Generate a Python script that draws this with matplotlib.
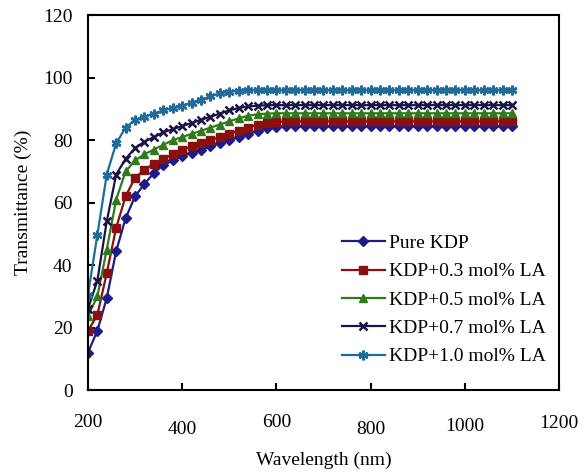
import matplotlib
matplotlib.use('Agg')
import matplotlib.pyplot as plt
import matplotlib.transforms as mtrans
import numpy as np

plt.rcParams['font.family'] = ['Liberation Serif', 'DejaVu Serif']

# wavelength 200..1100 nm, 20 nm step
wavelength = list(range(200, 1101, 20))

pure_kdp = [12, 19, 29.5, 44.5, 55, 62, 66, 69.5, 72, 73.5, 75, 76, 77, 78, 79, 80,
            81, 82, 83, 84, 84.3] + [84.5] * 25
la_03 = [19, 24, 37.5, 52, 62, 68, 70.5, 72.5, 74, 75.5, 77, 78, 79, 80, 81, 82,
         83, 84, 85, 85.5, 85.8] + [86] * 25
la_05 = [23.7, 30, 45, 61, 70, 73.5, 75.5, 77, 78.5, 80, 81, 82, 83, 84, 85, 86,
         87, 87.8, 88.3, 88.5, 88.6] + [88.6] * 25
la_07 = [26, 35, 54, 69, 74, 77.5, 79.5, 81, 82.5, 83.5, 84.5, 85.5, 86.5, 87.5, 88.5, 89.5,
         90.3, 90.8, 91, 91.2, 91.2] + [91.2] * 25
la_10 = [30.4, 49.6, 69, 79, 84, 86.5, 87.5, 88.5, 89.5, 90.3, 91, 92, 93, 94, 95, 95.5,
         95.8, 96, 96, 96, 96] + [96] * 25

labels = ['Pure KDP', 'KDP+0.3 mol% LA', 'KDP+0.5 mol% LA',
          'KDP+0.7 mol% LA', 'KDP+1.0 mol% LA']
colors = ['#1c1c8a', '#8a0f0f', '#2f7a1a', '#1a1446', '#1f6c9c']
markers = ['D', 's', '^', 'x', (6, 2, 0)]
sizes = [5, 6, 6, 6, 7]

fig = plt.figure(figsize=(5.86, 4.73), dpi=100)
ax = fig.add_axes([0.150, 0.175, 0.804, 0.793])

for y, lab, c, m, s in zip([pure_kdp, la_03, la_05, la_07, la_10], labels, colors, markers, sizes):
    ax.plot(wavelength, y, color=c, marker=m, markersize=s, linewidth=1.6,
            markeredgewidth=1.8 if m in ('x', (6, 2, 0)) else 1, label=lab)

ax.set_xlim(200, 1200)
ax.set_ylim(0, 120)
ax.set_xticks(range(200, 1201, 200))
ax.set_yticks(range(0, 121, 20))
ax.tick_params(direction='in', length=5, width=1.5, labelsize=14)
ax.tick_params(axis='x', pad=19)
ax.tick_params(axis='y', pad=11)
for sp in ax.spines.values():
    sp.set_linewidth(1.5)

# slight staggering of the x tick labels as in the original figure
offsets = [2, -3, 2, -3, -1, 1]
for lbl, off in zip(ax.get_xticklabels(), offsets):
    lbl.set_transform(lbl.get_transform() + mtrans.ScaledTranslation(0, off / 72, fig.dpi_scale_trans))

ax.set_xlabel('Wavelength (nm)', fontsize=14, labelpad=10)
ax.set_ylabel('Transmittance (%)', fontsize=14, labelpad=8)

ax.legend(loc='lower right', bbox_to_anchor=(1.0, 0.03), frameon=False, fontsize=14,
          handlelength=2.2, handletextpad=0.2, labelspacing=0.55, borderaxespad=0.3)

fig.savefig('out.png', dpi=100)
